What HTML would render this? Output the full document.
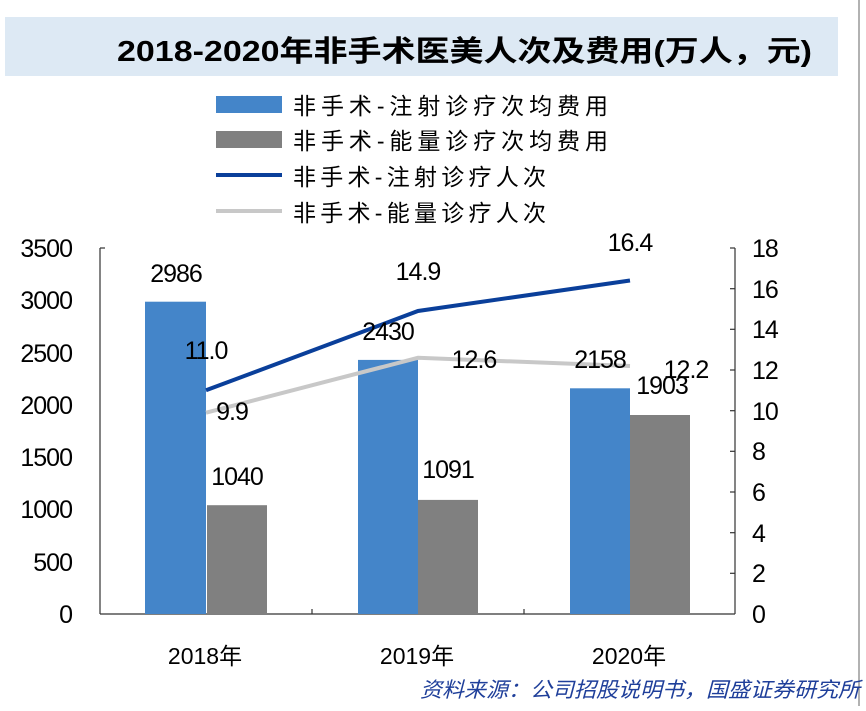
<!DOCTYPE html>
<html><head><meta charset="utf-8"><style>
body{margin:0;background:#fff;}
svg text{font-family:"Liberation Sans","Noto Sans CJK SC",sans-serif;}
</style></head><body>
<svg width="866" height="706" viewBox="0 0 866 706" xmlns="http://www.w3.org/2000/svg">
<rect x="5" y="17" width="833" height="59" fill="#dde9f4"/>
<line x1="859" y1="0" x2="859" y2="706" stroke="#999" stroke-width="1.5"/>
<text x="117" y="61" font-size="29" font-weight="bold" fill="#000" textLength="695" lengthAdjust="spacingAndGlyphs">2018-2020年非手术医美人次及费用(万人，元)</text>
<!-- legend -->
<rect x="216" y="96" width="66" height="17" fill="#4485c9"/>
<rect x="216" y="131" width="66" height="17" fill="#808080"/>
<line x1="216" y1="175" x2="282" y2="175" stroke="#0a3f9a" stroke-width="4"/>
<line x1="216" y1="211" x2="282" y2="211" stroke="#c8c8c8" stroke-width="4"/>
<g font-size="23" fill="#000">
<text x="293" y="114" textLength="315">非手术-注射诊疗次均费用</text>
<text x="293" y="149" textLength="315">非手术-能量诊疗次均费用</text>
<text x="293" y="185" textLength="253">非手术-注射诊疗人次</text>
<text x="293" y="221" textLength="253">非手术-能量诊疗人次</text>
</g>
<!-- axes -->
<g stroke="#333" stroke-width="1.2">
<line x1="100" y1="248" x2="100" y2="614"/>
<line x1="735" y1="248" x2="735" y2="614"/>
<line x1="100" y1="614" x2="735" y2="614"/>
<line x1="100" y1="248" x2="105" y2="248"/>
<line x1="730" y1="248" x2="735" y2="248"/>
<line x1="312" y1="609" x2="312" y2="614"/>
<line x1="524" y1="609" x2="524" y2="614"/>
<line x1="730" y1="288.7" x2="735" y2="288.7"/>
<line x1="730" y1="329.3" x2="735" y2="329.3"/>
<line x1="730" y1="370" x2="735" y2="370"/>
<line x1="730" y1="410.7" x2="735" y2="410.7"/>
<line x1="730" y1="451.3" x2="735" y2="451.3"/>
<line x1="730" y1="492" x2="735" y2="492"/>
<line x1="730" y1="532.7" x2="735" y2="532.7"/>
<line x1="730" y1="573.3" x2="735" y2="573.3"/>
</g>
<g font-size="25" fill="#000" text-anchor="end" letter-spacing="-1">
<text x="72" y="623">0</text><text x="72" y="571">500</text><text x="72" y="518">1000</text>
<text x="72" y="466">1500</text><text x="72" y="414">2000</text><text x="72" y="362">2500</text>
<text x="72" y="309">3000</text><text x="72" y="257">3500</text>
</g>
<g font-size="25" fill="#000" letter-spacing="-1">
<text x="752" y="623">0</text><text x="752" y="582">2</text><text x="752" y="542">4</text>
<text x="752" y="501">6</text><text x="752" y="460">8</text><text x="752" y="420">10</text>
<text x="752" y="379">12</text><text x="752" y="338">14</text><text x="752" y="298">16</text>
<text x="752" y="257">18</text>
</g>
<!-- bars -->
<rect x="145" y="301.7" width="61" height="312.3" fill="#4485c9"/>
<rect x="207" y="505.2" width="60" height="108.8" fill="#808080"/>
<rect x="358" y="359.9" width="60" height="254.1" fill="#4485c9"/>
<rect x="418" y="499.9" width="60" height="114.1" fill="#808080"/>
<rect x="570" y="388.3" width="60" height="225.7" fill="#4485c9"/>
<rect x="630" y="415" width="60" height="199" fill="#808080"/>
<!-- lines -->
<polyline points="206,412.7 418,357.8 630,366" fill="none" stroke="#c8c8c8" stroke-width="4"/>
<polyline points="206,390.3 418,311 630,280.5" fill="none" stroke="#0a3f9a" stroke-width="4"/>
<!-- labels -->
<g font-size="25" fill="#000" text-anchor="middle" letter-spacing="-1">
<text x="176" y="282">2986</text>
<text x="237" y="485">1040</text>
<text x="388" y="340">2430</text>
<text x="448" y="478">1091</text>
<text x="600" y="368">2158</text>
<text x="662" y="394">1903</text>
<text x="206" y="359">11.0</text>
<text x="232" y="420">9.9</text>
<text x="418" y="280">14.9</text>
<text x="474" y="368">12.6</text>
<text x="630" y="251">16.4</text>
<text x="686" y="378">12.2</text>
</g>
<g font-size="23" fill="#000" text-anchor="middle">
<text x="205" y="664">2018年</text>
<text x="417" y="664">2019年</text>
<text x="629" y="664">2020年</text>
</g>
<text x="420" y="697" font-size="21" font-style="italic" fill="#1f3f9a" textLength="440" lengthAdjust="spacingAndGlyphs">资料来源：公司招股说明书，国盛证券研究所</text>
</svg>
</body></html>
